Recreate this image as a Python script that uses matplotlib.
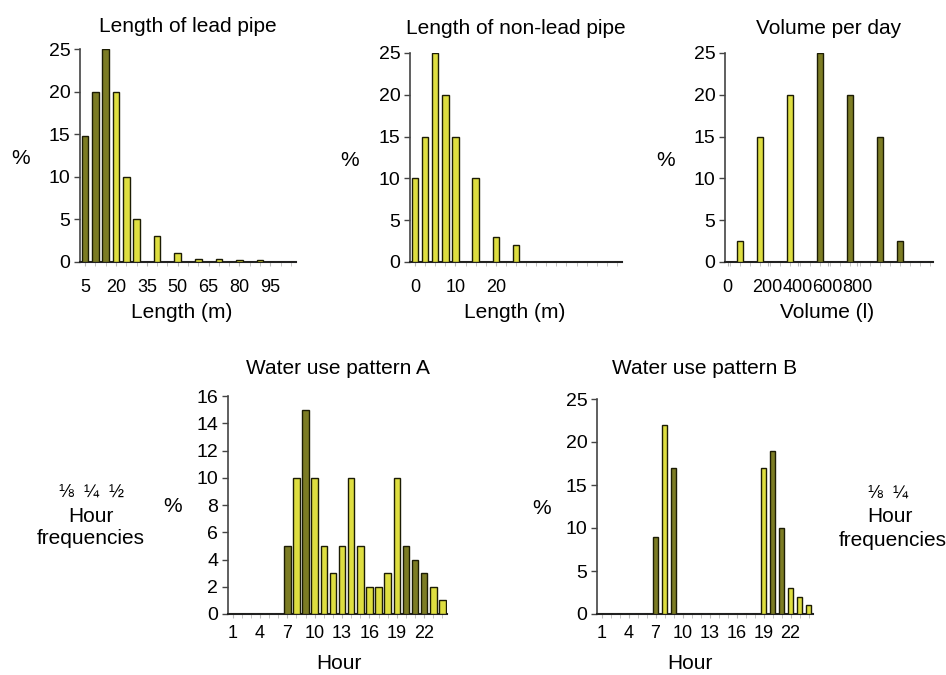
import matplotlib
matplotlib.use("Agg")
import matplotlib.pyplot as plt
import numpy as np

plt.rcParams["font.family"] = ["Liberation Sans", "DejaVu Sans"]
plt.rcParams["font.size"] = 15

# --- data ---
lead_len = list(range(5, 110, 5))
lead_pct = [14.8, 20, 25, 20, 10, 5, 0, 3, 0, 1, 0, 0.4, 0, 0.3, 0, 0.2, 0, 0.2, 0, 0, 0]
lead_ticks = [5, 20, 35, 50, 65, 80, 95]
lead_dark = [5, 10, 15]

nonlead_len = [2.5 * i for i in range(21)]
nonlead_pct = [10, 15, 25, 20, 15, 0, 10, 0, 3, 0, 2, 0, 0, 0, 0, 0, 0, 0, 0, 0, 0]
nonlead_ticks = [0, 10, 20]
nonlead_dark = []

vol = list(range(0, 1050, 50))
vol_pct = [0, 2.5, 0, 15, 0, 0, 20, 0, 0, 25, 0, 0, 20, 0, 0, 15, 0, 2.5, 0, 0, 0]
vol_labels = ["0", "200", "400", "600", "800"]
vol_dark = [450, 600, 750, 850]

hours = list(range(1, 25))
hour_labels = [1, 4, 7, 10, 13, 16, 19, 22]
pattern_a = [0, 0, 0, 0, 0, 0, 5, 10, 15, 10, 5, 3, 5, 10, 5, 2, 2, 3, 10, 5, 4, 3, 2, 1]
pattern_a_dark = [7, 9, 20, 21, 22]
pattern_b = [0, 0, 0, 0, 0, 0, 9, 22, 17, 0, 0, 0, 0, 0, 0, 0, 0, 0, 17, 19, 10, 3, 2, 1]
pattern_b_dark = [7, 9, 20, 21]

YELLOW = "#dede40"
DARK = "#7c7c24"
EDGE = "#1c1c04"

W, H = 946, 675


def box(left, top, right, bottom):
    # pixel box -> figure fraction
    return [left / W, 1 - bottom / H, (right - left) / W, (bottom - top) / H]


def panel(rect, x, y, dark, width, xlim, ymax, ystep, title, title_pad,
          xlabel, xlab_pos, ylab_pos, xpad):
    ax = fig.add_axes(rect)
    colors = [DARK if xi in dark else YELLOW for xi in x]
    ax.bar(x, y, width=width, color=colors, edgecolor=EDGE, linewidth=1.0, zorder=3)
    ax.set_xlim(*xlim)
    ax.set_ylim(0, ymax)
    ax.set_yticks(np.arange(0, ymax + 0.1, ystep))
    ax.set_xticks(x, minor=True)
    for s in ["top", "right"]:
        ax.spines[s].set_visible(False)
    ax.spines["left"].set_color("#444444")
    ax.spines["left"].set_linewidth(1.2)
    ax.spines["bottom"].set_color("#222222")
    ax.spines["bottom"].set_linewidth(1.5)
    ax.tick_params(axis="y", length=4, width=1, color="#444444", pad=3, labelsize=14)
    ax.tick_params(axis="x", which="both", length=3, color="#bbbbbb", pad=xpad, labelsize=13)
    ax.set_title(title, pad=title_pad, fontsize=15)
    ax.set_ylabel("%", rotation=0, va="center", ha="center")
    ax.yaxis.set_label_coords(*ylab_pos)
    ax.set_xlabel(xlabel, va="center")
    ax.xaxis.set_label_coords(*xlab_pos)
    return ax


fig = plt.figure(figsize=(W / 100, H / 100), dpi=100)

ax1 = panel(box(80, 49, 296, 262), lead_len, lead_pct, lead_dark, 3.2,
            (2.5, 107.5), 25, 5, "Length of lead pipe", 12,
            "Length (m)", (0.472, -0.235), (-0.273, 0.488), 9)
ax1.set_xticks(lead_ticks)

ax2 = panel(box(410, 53, 622, 262), nonlead_len, nonlead_pct, nonlead_dark, 1.6,
            (-1.25, 51.25), 25, 5, "Length of non-lead pipe", 14,
            "Length (m)", (0.495, -0.24), (-0.283, 0.488), 9)
ax2.set_xticks(nonlead_ticks)

ax3 = panel(box(725, 53, 933, 262), vol, vol_pct, vol_dark, 32,
            (-25, 1015), 25, 5, "Volume per day", 14,
            "Volume (l)", (0.49, -0.24), (-0.288, 0.488), 9)
# category labels sit where the original spreadsheet put them
ax3.set_xticks([-12, 188, 338, 488, 635], vol_labels)

ax4 = panel(box(228, 396, 447, 614), hours, pattern_a, pattern_a_dark, 0.7,
            (0.5, 24.5), 16, 2, "Water use pattern A", 16,
            "Hour", (0.507, -0.225), (-0.251, 0.495), 5)
ax4.set_xticks(hour_labels)

ax5 = panel(box(597, 399, 813, 614), hours, pattern_b, pattern_b_dark, 0.6,
            (0.5, 24.5), 25, 5, "Water use pattern B", 18,
            "Hour", (0.43, -0.228), (-0.255, 0.49), 5)
ax5.set_xticks(hour_labels)

# side notes
fig.text(91 / W, 1 - 492 / H, "⅛  ¼  ½", ha="center", va="center", fontsize=13)
fig.text(91 / W, 1 - 517 / H, "Hour", ha="center", va="center")
fig.text(91 / W, 1 - 539 / H, "frequencies", ha="center", va="center")
fig.text(888 / W, 1 - 493 / H, "⅛  ¼", ha="center", va="center", fontsize=13)
fig.text(890 / W, 1 - 517 / H, "Hour", ha="center", va="center")
fig.text(893 / W, 1 - 541 / H, "frequencies", ha="center", va="center")

fig.savefig("out.png", dpi=100)
